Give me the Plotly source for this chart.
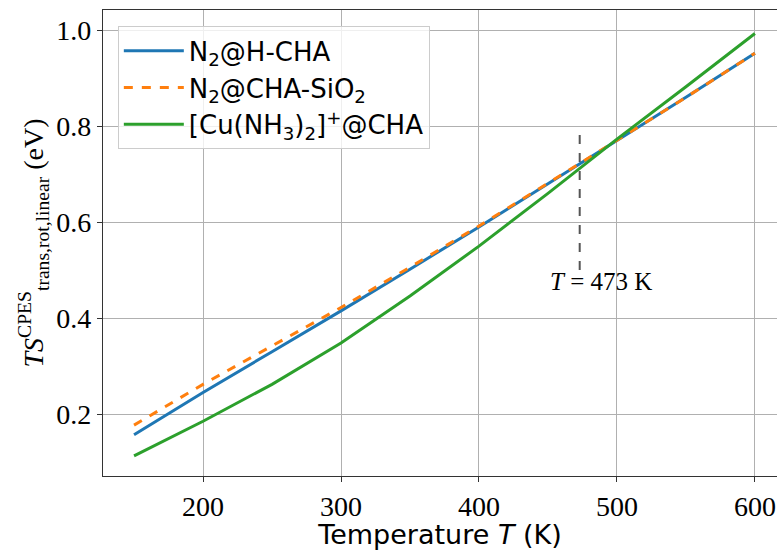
import plotly.graph_objects as go

# Temperatures (K)
temperature = [150, 200, 250, 300, 350, 400, 450, 500, 550, 600]

# T*S (eV) for each system
ts_n2_hcha = [0.157, 0.245, 0.330, 0.415, 0.502, 0.590, 0.680, 0.770, 0.860, 0.952]
ts_n2_cha_sio2 = [0.177, 0.262, 0.342, 0.422, 0.506, 0.592, 0.681, 0.770, 0.860, 0.952]
ts_cu_nh3 = [0.113, 0.185, 0.262, 0.348, 0.446, 0.550, 0.660, 0.773, 0.882, 0.993]

series_names = ["N<sub>2</sub>@H-CHA", "N<sub>2</sub>@CHA-SiO<sub>2</sub>",
                "[Cu(NH<sub>3</sub>)<sub>2</sub>]<sup>+</sup>@CHA"]

marker_T = 473
marker_span = [0.5, 0.8]
marker_label = "<i>T</i> = 473 K"

x_ticks = [200, 300, 400, 500, 600]
y_ticks = [0.2, 0.4, 0.6, 0.8, 1.0]

SERIF = "Liberation Serif, DejaVu Serif, serif"
SANS = "DejaVu Sans, Liberation Sans, sans-serif"

fig = go.Figure()
fig.add_trace(go.Scatter(x=temperature, y=ts_n2_hcha, mode="lines", name=series_names[0],
                         line=dict(color="#1f77b4", width=3)))
fig.add_trace(go.Scatter(x=temperature, y=ts_n2_cha_sio2, mode="lines", name=series_names[1],
                         line=dict(color="#ff7f0e", width=3, dash="dash")))
fig.add_trace(go.Scatter(x=temperature, y=ts_cu_nh3, mode="lines", name=series_names[2],
                         line=dict(color="#2ca02c", width=3)))

# vertical marker at 473 K
fig.add_trace(go.Scatter(x=[marker_T, marker_T], y=marker_span, mode="lines", showlegend=False,
                         line=dict(color="#555555", width=2, dash="dash"), hoverinfo="skip"))

fig.add_annotation(x=450, y=0.445, xref="x", yref="y", text=marker_label, showarrow=False,
                   xanchor="left", yanchor="bottom", font=dict(family=SERIF, size=25, color="black"))

axis_common = dict(showline=True, linecolor="#333333", linewidth=1.2, mirror=True,
                   ticks="outside", ticklen=5, tickcolor="#333333",
                   showgrid=True, gridcolor="#b0b0b0", gridwidth=1, zeroline=False,
                   tickfont=dict(family=SERIF, size=28, color="black"))

fig.update_xaxes(range=[127.5, 616], tickvals=x_ticks, ticktext=[str(v) for v in x_ticks],
                 title=dict(text="Temperature <i>T</i> (K)", font=dict(family=SANS, size=27, color="black"),
                            standoff=6),
                 **axis_common)
fig.update_yaxes(range=[0.071, 1.042], tickvals=y_ticks, ticktext=[f"{v:.1f}" for v in y_ticks],
                 title=dict(text="<i>TS</i><sup>CPES</sup><sub>trans,rot,linear</sub> (eV)",
                            font=dict(family=SERIF, size=28, color="black"), standoff=4),
                 **axis_common)

fig.update_layout(
    width=777, height=550,
    margin=dict(l=103, r=0, t=10, b=74),
    paper_bgcolor="white", plot_bgcolor="white",
    legend=dict(x=0.022, y=0.965, xanchor="left", yanchor="top",
                bgcolor="rgba(255,255,255,0.8)", bordercolor="#cccccc", borderwidth=1,
                font=dict(family=SANS, size=26, color="black"), tracegroupgap=0,
                itemwidth=60),
    showlegend=True,
)

fig.write_html("out.html")
